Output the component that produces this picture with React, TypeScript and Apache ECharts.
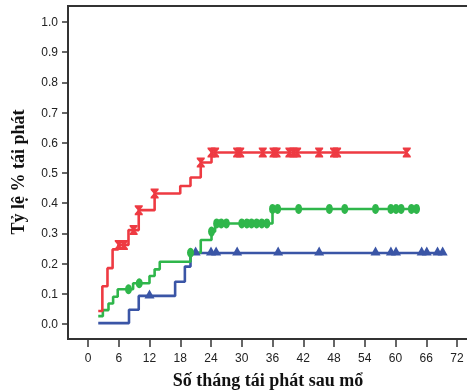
import React, { useEffect, useRef } from "react";
import * as echarts from "echarts";

// Step curves: month at which the cumulative rate changes, and rate after the change
const redMonths = [2.0, 2.8, 3.8, 4.8, 5.9, 7.9, 9.9, 13.0, 18.0, 20.0, 22.0, 24.1, 62.2];
const redRates = [0.043, 0.125, 0.185, 0.247, 0.262, 0.311, 0.377, 0.432, 0.457, 0.485, 0.535, 0.568, 0.568];
const redCensored = [6.0, 7.0, 8.9, 9.9, 13.0, 22.0, 24.1, 24.8, 29.1, 29.7, 34.1, 36.2, 36.8, 39.3, 40.1, 40.8, 45.1, 48.0, 48.6, 62.2];

const greenMonths = [2.0, 2.9, 4.0, 4.9, 5.8, 8.8, 12.0, 13.0, 14.0, 20.0, 22.0, 24.1, 24.8, 36.0, 64.1];
const greenRates = [0.026, 0.046, 0.068, 0.09, 0.115, 0.135, 0.159, 0.181, 0.206, 0.236, 0.278, 0.306, 0.333, 0.381, 0.381];
const greenCensored = [7.9, 10.0, 20.0, 24.1, 25.1, 26.0, 27.0, 30.0, 31.0, 31.9, 32.9, 33.9, 34.9, 36.0, 37.0, 41.1, 47.1, 50.1, 56.1, 59.1, 60.1, 61.1, 63.1, 64.1];

const blueMonths = [2.0, 8.0, 9.9, 17.0, 18.9, 20.0, 69.2];
const blueRates = [0.003, 0.047, 0.093, 0.14, 0.19, 0.235, 0.235];
const blueCensored = [12.0, 21.0, 24.0, 25.0, 29.1, 37.1, 45.1, 56.1, 59.1, 60.1, 65.1, 66.1, 68.2, 69.2];

const xTitle = "Số tháng tái phát sau mổ";
const yTitle = "Tỷ lệ % tái phát";

const RED = "#ee3a42";
const GREEN = "#2fb64b";
const BLUE = "#3a55a6";

function pairs(ms: number[], rs: number[]) {
  return ms.map((m, i) => [m, rs[i]]);
}
function censorPoints(ms: number[], rs: number[], cs: number[]) {
  return cs.map((c) => {
    let v = rs[0];
    for (let i = 0; i < ms.length; i++) if (ms[i] <= c + 1e-9) v = rs[i];
    return [c, v];
  });
}

const hourglass = "path://M0,0 L10,0 L10,1.5 L6.2,5 L10,8.5 L10,10 L0,10 L0,8.5 L3.8,5 L0,1.5 Z";

export default function App() {
  const ref = useRef<HTMLDivElement>(null);
  useEffect(() => {
    if (!ref.current) return;
    const chart = echarts.init(ref.current, undefined, { renderer: "svg" });
    const frame = "#333";
    const lbl = { fontFamily: "Liberation Sans", fontSize: 12, color: "#222" };
    chart.setOption({
      animation: false,
      grid: { left: 88, right: 10, top: 22, bottom: 67 },
      xAxis: {
        type: "value",
        min: 0,
        max: 72,
        interval: 6,
        offset: 15,
        axisLine: { show: true, onZero: false, lineStyle: { color: "rgba(0,0,0,0)", width: 0 } },
        axisTick: { show: true, length: 8, lineStyle: { color: frame, width: 1.5 } },
        axisLabel: { ...lbl, margin: 13 },
        splitLine: { show: false },
      },
      yAxis: {
        type: "value",
        min: 0,
        max: 1,
        interval: 0.1,
        offset: 20,
        axisLine: { show: true, onZero: false, lineStyle: { color: "rgba(0,0,0,0)", width: 0 } },
        axisTick: { show: true, length: 6, lineStyle: { color: frame, width: 1.5 } },
        axisLabel: { ...lbl, margin: 10, formatter: (v: number) => v.toFixed(1) },
        splitLine: { show: false },
      },
      graphic: [
        { type: "line", shape: { x1: 68, y1: 6, x2: 68, y2: 339 }, style: { stroke: frame, lineWidth: 2 } },
        { type: "line", shape: { x1: 67, y1: 6, x2: 467, y2: 6 }, style: { stroke: frame, lineWidth: 2 } },
        { type: "line", shape: { x1: 67, y1: 339, x2: 467, y2: 339 }, style: { stroke: frame, lineWidth: 2 } },
        {
          type: "text",
          x: 268,
          y: 380,
          style: { text: xTitle, fontFamily: "Liberation Serif", fontWeight: "bold", fontSize: 18, fill: "#111", align: "center", verticalAlign: "middle" },
        },
        {
          type: "text",
          x: 18,
          y: 172,
          rotation: Math.PI / 2,
          style: { text: yTitle, fontFamily: "Liberation Serif", fontWeight: "bold", fontSize: 18, fill: "#111", align: "center", verticalAlign: "middle" },
        },
      ],
      series: [
        { type: "line", step: "end", data: pairs(blueMonths, blueRates), showSymbol: false, lineStyle: { color: BLUE, width: 2.6 }, z: 2 },
        { type: "line", step: "end", data: pairs(greenMonths, greenRates), showSymbol: false, lineStyle: { color: GREEN, width: 2.6 }, z: 3 },
        { type: "line", step: "end", data: pairs(redMonths, redRates), showSymbol: false, lineStyle: { color: RED, width: 2.6 }, z: 4 },
        { type: "scatter", data: censorPoints(blueMonths, blueRates, blueCensored), symbol: "triangle", symbolSize: [10, 9], symbolOffset: [0, -2], itemStyle: { color: BLUE, opacity: 1 }, z: 5 },
        { type: "scatter", data: censorPoints(greenMonths, greenRates, greenCensored), symbol: "circle", symbolSize: [7, 10], itemStyle: { color: GREEN, opacity: 1 }, z: 6 },
        { type: "scatter", data: censorPoints(redMonths, redRates, redCensored), symbol: hourglass, symbolSize: [8, 10], itemStyle: { color: RED, opacity: 1 }, z: 7 },
      ],
    });
    return () => chart.dispose();
  }, []);
  return <div ref={ref} style={{ position: "fixed", left: 0, top: 0, width: 467, height: 391 }} />;
}
